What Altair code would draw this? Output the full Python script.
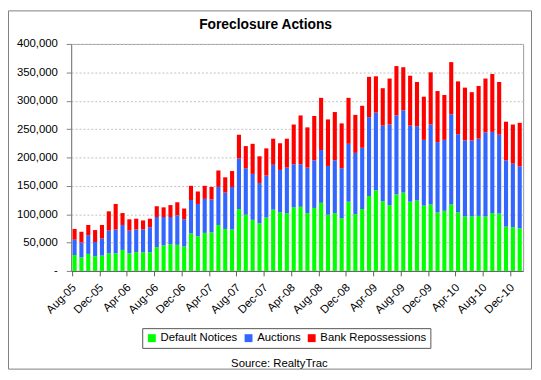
import altair as alt
import pandas as pd

months = [
    "Aug-05", "Sep-05", "Oct-05", "Nov-05", "Dec-05",
    "Jan-06", "Feb-06", "Mar-06", "Apr-06", "May-06", "Jun-06", "Jul-06", "Aug-06", "Sep-06", "Oct-06", "Nov-06", "Dec-06",
    "Jan-07", "Feb-07", "Mar-07", "Apr-07", "May-07", "Jun-07", "Jul-07", "Aug-07", "Sep-07", "Oct-07", "Nov-07", "Dec-07",
    "Jan-08", "Feb-08", "Mar-08", "Apr-08", "May-08", "Jun-08", "Jul-08", "Aug-08", "Sep-08", "Oct-08", "Nov-08", "Dec-08",
    "Jan-09", "Feb-09", "Mar-09", "Apr-09", "May-09", "Jun-09", "Jul-09", "Aug-09", "Sep-09", "Oct-09", "Nov-09", "Dec-09",
    "Jan-10", "Feb-10", "Mar-10", "Apr-10", "May-10", "Jun-10", "Jul-10", "Aug-10", "Sep-10", "Oct-10", "Nov-10", "Dec-10",
    "Jan-11",
]

default_notices = [
    28000, 24000, 30000, 26000, 27000, 31000, 31000, 37000, 31000, 33000, 33000, 33000,
    42000, 45000, 47000, 46000, 43000, 66000, 61000, 67000, 68000, 81000, 74000, 73000,
    109000, 99000, 90000, 84000, 94000, 108000, 103000, 102000, 112000, 113000, 102000, 111000,
    120000, 99000, 102000, 93000, 122000, 100000, 109000, 132000, 142000, 123000, 116000, 135000,
    138000, 122000, 124000, 115000, 117000, 103000, 106000, 117000, 103000, 96000, 96000, 97000,
    96000, 102000, 101000, 78000, 77000, 75000,
]
auctions = [
    27000, 26000, 33000, 25000, 30000, 40000, 42000, 44000, 40000, 40000, 40000, 44000,
    53000, 50000, 48000, 52000, 48000, 59000, 57000, 60000, 58000, 67000, 64000, 75000,
    89000, 82000, 81000, 71000, 74000, 79000, 75000, 80000, 76000, 75000, 80000, 84000,
    93000, 86000, 93000, 88000, 102000, 108000, 108000, 139000, 137000, 133000, 142000, 139000,
    145000, 134000, 131000, 116000, 141000, 124000, 125000, 159000, 138000, 134000, 134000, 136000,
    148000, 143000, 139000, 117000, 112000, 109000,
]
bank_repossessions = [
    19000, 19000, 18000, 21000, 24000, 34000, 45000, 21000, 20000, 19000, 16000, 15000,
    19000, 17000, 21000, 23000, 19000, 25000, 22000, 23000, 22000, 29000, 27000, 28000,
    42000, 39000, 53000, 47000, 48000, 46000, 47000, 51000, 70000, 86000, 71000, 78000,
    92000, 82000, 85000, 79000, 81000, 67000, 74000, 71000, 64000, 66000, 81000, 87000,
    76000, 88000, 78000, 76000, 92000, 90000, 79000, 92000, 93000, 93000, 85000, 93000,
    95000, 102000, 93000, 68000, 69000, 77000,
]

series_names = ["Default Notices", "Auctions", "Bank Repossessions"]
series_colors = ["#00FF00", "#3366FF", "#FF0000"]
tick_months = months[::4]
y_ticks = [0, 50000, 100000, 150000, 200000, 250000, 300000, 350000, 400000]
title_text = "Foreclosure Actions"
source_text = "Source: RealtyTrac"

rows = []
for i, m in enumerate(months):
    for k, vals in enumerate([default_notices, auctions, bank_repossessions]):
        rows.append({"month": m, "series": series_names[k], "k": k, "value": vals[i]})
df = pd.DataFrame(rows)

FONT = "Liberation Sans"

bars = alt.Chart(df).mark_bar().encode(
    x=alt.X(
        "month:N",
        sort=months,
        title=None,
        scale=alt.Scale(paddingInner=0.4, paddingOuter=0.2),
        axis=alt.Axis(
            values=tick_months,
            bandPosition=0,
            labelAngle=-45,
            labelAlign="right",
            labelBaseline="middle",
            labelPadding=10,
            labelOverlap=False,
            labelBound=False,
            labelFont=FONT,
            labelFontSize=11.5,
            labelColor="#000000",
            domainColor="#606060",
            tickColor="#606060",
            tickSize=5,
            grid=False,
        ),
    ),
    y=alt.Y(
        "value:Q",
        stack="zero",
        title=None,
        scale=alt.Scale(domain=[0, 400000], nice=False),
        axis=alt.Axis(
            values=y_ticks,
            labelExpr="datum.value == 0 ? '-\u00a0\u00a0\u00a0\u00a0' : format(datum.value, ',')",
            labelFont=FONT,
            labelFontSize=11.5,
            labelColor="#000000",
            labelPadding=9,
            tickSize=5,
            tickColor="#808080",
            domainColor="#808080",
            grid=True,
            gridColor="#c0c0c0",
            gridDash=[2, 2],
        ),
    ),
    color=alt.Color(
        "series:N",
        sort=series_names,
        scale=alt.Scale(domain=series_names, range=series_colors),
        legend=alt.Legend(
            title=None,
            orient="none",
            legendX=72,
            legendY=288,
            direction="horizontal",
            symbolType="square",
            symbolSize=64,
            symbolStrokeWidth=0,
            labelFont=FONT,
            labelFontSize=11.5,
            labelColor="#000000",
            labelOffset=3,
            columnPadding=5,
            padding=4,
            strokeColor="#555555",
        ),
    ),
    order=alt.Order("k:Q", sort="ascending"),
)

frame = alt.Chart(alt.Data(values=[{"a": 1}])).mark_rect(
    filled=False, stroke="#7f7f7f", strokeWidth=1
).encode(
    x=alt.value(-63.5), x2=alt.value(466.5), y=alt.value(-33.5), y2=alt.value(329.5)
)

title = alt.Chart(alt.Data(values=[{"t": title_text}])).mark_text(
    font=FONT, fontSize=14, fontWeight="bold", align="center", baseline="alphabetic", color="#000000"
).encode(text="t:N", x=alt.value(197), y=alt.value(-15))

source = alt.Chart(alt.Data(values=[{"t": source_text}])).mark_text(
    font=FONT, fontSize=11.5, align="center", baseline="alphabetic", color="#000000"
).encode(text="t:N", x=alt.value(211), y=alt.value(327))

chart = alt.layer(bars, title, source, frame).properties(
    width=458,
    height=230,
    padding={"left": 64, "top": 34, "right": 10, "bottom": 100},
    autosize=alt.AutoSizeParams(type="none"),
).configure_view(stroke="#999999")

chart.save("out.html", embed_options={"renderer": "svg", "actions": False})
